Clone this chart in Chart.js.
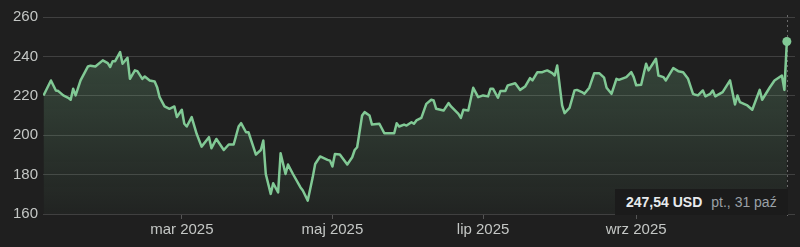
<!DOCTYPE html>
<html lang="pl">
<head>
<meta charset="UTF-8">
<title>Notowania - 247,54 USD</title>
<script src="https://cdn.jsdelivr.net/npm/chart.js"></script>
<style>
  body {
    margin: 0;
    background: #1f1f1f;
    font-family: Arial, "Liberation Sans", sans-serif;
  }
  .wrap {
    position: relative;
    width: 800px;
    height: 247px;
  }
  .tip {
    position: absolute;
    left: 615px;
    top: 189px;
    width: 173px;
    height: 26px;
    line-height: 26px;
    padding-left: 11px;
    box-sizing: border-box;
    background: #1b1b1b;
    font-size: 14px;
    white-space: nowrap;
  }
  .tip .price { color: #e8eaed; font-weight: bold; }
  .tip .date { color: #9aa0a6; margin-left: 9px; }
</style>
</head>
<body>
<div class="wrap">
  <canvas id="priceChart" width="800" height="247"></canvas>
  <div class="tip"><span class="price">247,54 USD</span><span class="date">pt., 31 paź</span></div>
</div>

<script>
// dni liczone od 1 stycznia 2025
const days = [
  3, 6, 8, 9, 11, 13, 14, 15, 16, 18, 21, 22, 24, 27, 29, 30, 31, 32, 34, 35,
  37, 38, 40, 41, 43, 44, 46, 48, 49, 50, 52, 54, 56, 57, 59, 60, 61, 63, 65, 67,
  70, 71, 73, 76, 78, 80, 82, 83, 85, 86, 88, 89, 91, 92, 93, 95, 96, 98, 99, 101,
  102, 104, 107, 108, 110, 112, 113, 115, 118, 119, 120, 121, 123, 126, 128, 129, 130, 132, 133, 135,
  136, 139, 141, 145, 146, 147, 149, 150, 152, 153, 154, 156, 158, 160, 161, 162, 165, 167, 168, 171,
  172, 173, 175, 177, 179, 181, 183, 184, 185, 187, 188, 190, 191, 194, 196, 198, 200, 201, 203, 205,
  206, 207, 209, 210, 211, 213, 214, 216, 218, 219, 221, 222, 224, 226, 228, 230, 231, 233, 235, 236,
  239, 241, 242, 243, 245, 247, 248, 251, 252, 254, 255, 258, 260, 262, 264, 266, 267, 268, 270, 271,
  273, 274, 275, 278, 281, 283, 284, 285, 288, 290, 293, 294, 297, 299, 302, 303, 304
];

const prices = [
  220.2, 227.8, 222.7, 222.4, 220.2, 219.0, 218.0, 223.6, 220.2, 227.8, 234.9, 235.3, 234.9, 238.0, 236.6, 234.6, 237.6, 237.6, 242.2, 236.3,
  239.3, 228.6, 232.9, 232.5, 228.6, 229.8, 227.8, 227.3, 224.4, 219.3, 214.6, 213.4, 214.6, 209.2, 212.9, 205.8, 204.4, 209.2, 200.7, 194.2,
  199.0, 193.4, 198.1, 192.5, 195.3, 195.3, 204.4, 206.1, 201.5, 201.5, 193.9, 190.2, 192.5, 197.3, 180.3, 170.2, 175.6, 171.0, 190.8, 180.3,
  185.1, 180.3, 173.6, 171.9, 166.8, 178.6, 185.4, 189.2, 187.5, 187.1, 184.1, 190.5, 190.2, 185.1, 188.8, 192.5, 193.9, 210.0, 211.7, 210.0,
  205.4, 205.8, 201.0, 201.0, 206.1, 204.4, 205.4, 204.9, 206.6, 205.8, 207.5, 208.8, 215.9, 218.0, 217.6, 213.4, 212.5, 216.3, 214.6, 210.8,
  208.8, 212.9, 212.5, 224.1, 219.3, 220.2, 219.7, 223.6, 223.6, 219.0, 222.4, 222.4, 225.3, 226.4, 223.0, 224.7, 229.0, 227.8, 232.0, 232.0,
  232.5, 232.9, 231.5, 230.3, 235.4, 215.1, 211.2, 213.9, 222.7, 223.0, 221.9, 221.0, 224.1, 231.5, 231.5, 229.2, 224.1, 221.0, 228.6, 228.1,
  229.5, 232.0, 229.5, 225.3, 225.6, 236.3, 232.9, 238.8, 230.3, 229.5, 227.8, 234.1, 232.5, 232.0, 228.6, 221.0, 220.5, 220.2, 222.7, 219.7,
  221.0, 222.7, 219.7, 221.9, 227.8, 215.6, 220.2, 216.8, 215.1, 212.9, 223.0, 218.0, 224.1, 227.8, 230.3, 223.0, 247.54
];

const tickDays = [59, 120, 181, 243];
const tickLabels = ['mar 2025', 'maj 2025', 'lip 2025', 'wrz 2025'];

const lineColor = '#81c995';
const textColor = '#c4c7c5';
const points = days.map((d, i) => ({ x: d, y: prices[i] }));
const last = points.length - 1;

// przerywana linia pionowa przy ostatnim punkcie
const crosshair = {
  id: 'crosshair',
  beforeDatasetsDraw(chart) {
    const meta = chart.getDatasetMeta(0);
    const pt = meta.data[last];
    const { ctx, chartArea } = chart;
    const x = Math.round(pt.x) + 0.5;
    ctx.save();
    ctx.strokeStyle = '#6a6a6a';
    ctx.lineWidth = 1;
    ctx.setLineDash([2, 3]);
    ctx.beginPath();
    ctx.moveTo(x, chartArea.top - 2);
    ctx.lineTo(x, chartArea.bottom + 2);
    ctx.stroke();
    ctx.restore();
  }
};

new Chart(document.getElementById('priceChart'), {
  type: 'line',
  data: {
    datasets: [{
      data: points,
      borderColor: lineColor,
      borderWidth: 2.5,
      borderJoinStyle: 'round',
      tension: 0,
      fill: 'start',
      backgroundColor: (context) => {
        const area = context.chart.chartArea;
        if (!area) return 'transparent';
        const g = context.chart.ctx.createLinearGradient(0, area.top, 0, area.bottom);
        g.addColorStop(0, 'rgba(129, 201, 149, 0.28)');
        g.addColorStop(1, 'rgba(129, 201, 149, 0.03)');
        return g;
      },
      pointRadius: (c) => c.dataIndex === last ? 4.5 : 0,
      pointBackgroundColor: lineColor,
      pointBorderWidth: 0,
      pointHoverRadius: 0
    }]
  },
  options: {
    responsive: false,
    animation: false,
    events: [],
    layout: { padding: { top: 17, left: 8, right: 5, bottom: 6 } },
    plugins: {
      legend: { display: false },
      tooltip: { enabled: false }
    },
    scales: {
      x: {
        type: 'linear',
        min: 2.8,
        max: 307.3,
        afterBuildTicks: (scale) => { scale.ticks = tickDays.map(v => ({ value: v })); },
        ticks: {
          autoSkip: false,
          maxRotation: 0,
          padding: 2,
          color: textColor,
          font: { family: 'Arial', size: 15 },
          callback: (v, i) => tickLabels[i]
        },
        grid: { drawOnChartArea: false, drawTicks: true, tickLength: 5, color: '#555' },
        border: { display: false }
      },
      y: {
        min: 160,
        max: 260,
        ticks: {
          stepSize: 20,
          padding: 5,
          color: textColor,
          font: { family: 'Arial', size: 15 }
        },
        grid: { color: '#404040', drawTicks: false },
        border: { display: false }
      }
    }
  },
  plugins: [crosshair]
});
</script>
</body>
</html>
